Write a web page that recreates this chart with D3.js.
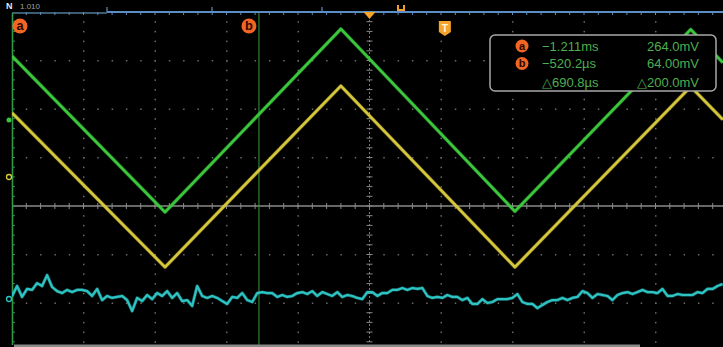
<!DOCTYPE html>
<html>
<head>
<meta charset="utf-8">
<script src="https://cdn.jsdelivr.net/npm/d3@7"></script>
<style>
html,body{margin:0;padding:0;background:#000;overflow:hidden;}
svg{display:block;}
</style>
</head>
<body>
<svg id="scope" width="723" height="347"></svg>
<script>
// ---------- data (time in µs, voltage in mV; 200 µs/div, 200 mV/div) ----------
const greenTimes = [-1211, -783, -291, 196, 688, 778];
const greenValues = [618, -25, 730, -22, 728, 591];
const yellowTimes = [-1211, -783, -291, 196, 688, 778];
const yellowValues = [384, -252, 495, -252, 492, 356];
// cyan: sampled every 14 µs starting at -1211 µs
const cyanStart = -1211;
const cyanStep = 14;
const cyanValues = [
-372,-330,-375,-342,-346,-318,-330,-285,-334,-351,-359,-346,-355,-346,-346,-351,
-371,-342,-388,-371,-379,-375,-371,-388,-433,-379,-392,-367,-384,-359,-371,-351,
-379,-359,-392,-388,-412,-330,-371,-379,-371,-379,-392,-404,-375,-379,-359,-388,
-396,-359,-355,-359,-359,-375,-367,-375,-371,-359,-355,-363,-351,-371,-355,-363,
-371,-355,-375,-367,-371,-379,-384,-355,-355,-371,-359,-359,-346,-346,-338,-346,
-338,-342,-338,-371,-379,-375,-379,-367,-375,-375,-388,-379,-404,-404,-384,-400,
-396,-384,-384,-384,-379,-363,-396,-404,-404,-421,-408,-396,-388,-388,-379,-388,
-379,-375,-351,-359,-379,-363,-367,-371,-388,-367,-359,-355,-363,-355,-346,-355,
-355,-359,-342,-371,-371,-363,-367,-367,-367,-355,-359,-342,-342,-330,-322];
const cursorLabels = ["a", "b"];
const cursorTimes = ["−1.211ms", "−520.2µs", "△690.8µs"];
const cursorVolts = ["264.0mV", "64.00mV", "△200.0mV"];
const cursorA = -1211.2, cursorB = -520.2;

// ---------- scales ----------
const svg = d3.select("#scope");
const x = d3.scaleLinear().domain([-1211.2, 778.3]).range([12, 723]);
const y = d3.scaleLinear().domain([-800, 800]).range([400, 12]);
const gx = d3.scaleLinear().domain([0, 10]).range([12, 727]); // graticule divisions
const gy = d3.scaleLinear().domain([0, 8]).range([12, 400]);

svg.append("rect").attr("width", 723).attr("height", 347).attr("fill", "#000");
const defs = svg.append("defs");
const glow = defs.append("filter").attr("id", "glow").attr("x", "-5%").attr("y", "-20%").attr("width", "110%").attr("height", "140%");
glow.append("feGaussianBlur").attr("stdDeviation", 0.6);

// ---------- graticule ----------
const grat = svg.append("g");
const sub = d3.range(0, 50.01, 1).map(d => d / 5);
const subY = d3.range(0, 40.01, 1).map(d => d / 5);
[1,2,3,4,6,7,8,9].forEach(k => {
  grat.selectAll(null).data(subY.filter(v => gy(v) < 344 && gy(v) > 13)).enter().append("rect")
    .attr("x", gx(k) - 0.5).attr("y", d => gy(d) - 0.5).attr("width", 1.5).attr("height", 1.5)
    .attr("fill", "#6a6a6a");
});
[1,2,3,5,6,7].forEach(k => {
  grat.selectAll(null).data(sub.filter(v => gx(v) > 13 && gx(v) < 723)).enter().append("rect")
    .attr("x", d => gx(d) - 0.5).attr("y", gy(k) - 0.5).attr("width", 1.5).attr("height", 1.5)
    .attr("fill", "#6a6a6a");
});
// center horizontal
grat.append("line").attr("x1", 12).attr("x2", 723).attr("y1", gy(4)).attr("y2", gy(4))
  .attr("stroke", "#8a8a8a").attr("stroke-width", 1.3);
grat.selectAll(null).data(sub.filter(v => gx(v) > 13 && gx(v) < 723)).enter().append("line")
  .attr("x1", d => gx(d)).attr("x2", d => gx(d)).attr("y1", gy(4) - 3).attr("y2", gy(4) + 3)
  .attr("stroke", "#8a8a8a").attr("stroke-width", 1);
// center vertical
grat.append("line").attr("x1", gx(5)).attr("x2", gx(5)).attr("y1", 12).attr("y2", 344)
  .attr("stroke", "#777").attr("stroke-width", 1).attr("stroke-dasharray", "2,2");
grat.selectAll(null).data(subY.filter(v => gy(v) > 13 && gy(v) < 344)).enter().append("line")
  .attr("x1", gx(5) - 3).attr("x2", gx(5) + 3).attr("y1", d => gy(d)).attr("y2", d => gy(d))
  .attr("stroke", "#888").attr("stroke-width", 1);

// top border
svg.append("line").attr("x1", 12).attr("x2", 107).attr("y1", 13).attr("y2", 13)
  .attr("stroke", "#4f7d95").attr("stroke-width", 1.5);
svg.append("line").attr("x1", 107).attr("x2", 723).attr("y1", 12).attr("y2", 12)
  .attr("stroke", "#5b8ec4").attr("stroke-width", 2);
svg.append("line").attr("x1", 107).attr("x2", 107).attr("y1", 7).attr("y2", 12)
  .attr("stroke", "#5b8ec4").attr("stroke-width", 1.2);
svg.selectAll(null).data(sub.filter(v => gx(v) > 14 && gx(v) < 723)).enter().append("line")
  .attr("x1", d => gx(d)).attr("x2", d => gx(d)).attr("y1", 12).attr("y2", 15)
  .attr("stroke", "#5b8ec4").attr("stroke-width", 1);
[212, 322].forEach(px => svg.append("line").attr("x1", px).attr("x2", px).attr("y1", 7).attr("y2", 12)
  .attr("stroke", "#5b8ec4").attr("stroke-width", 1.2));
// left border ticks
svg.selectAll(null).data(subY.filter(v => gy(v) > 13 && gy(v) < 344)).enter().append("line")
  .attr("x1", 12).attr("x2", 15).attr("y1", d => gy(d)).attr("y2", d => gy(d))
  .attr("stroke", "#3b8a5a").attr("stroke-width", 1);

// bottom scroll bar
svg.append("rect").attr("x", 14).attr("y", 344.5).attr("width", 626).attr("height", 3).attr("fill", "#8a8a8a");

// top-left label
svg.append("text").attr("x", 6).attr("y", 9).attr("fill", "#e8e8e8")
  .attr("font-family", "Liberation Sans, sans-serif").attr("font-size", 9).attr("font-weight", "bold").text("N");
svg.append("text").attr("x", 20).attr("y", 9).attr("fill", "#9aa0a0")
  .attr("font-family", "Liberation Sans, sans-serif").attr("font-size", 8).text("1.010");

// ---------- cursors ----------
svg.append("line").attr("x1", x(cursorA) + 0.5).attr("x2", x(cursorA) + 0.5).attr("y1", 13).attr("y2", 345)
  .attr("stroke", "#2f9a4a").attr("stroke-width", 1.6);
svg.append("line").attr("x1", x(cursorB)).attr("x2", x(cursorB)).attr("y1", 13).attr("y2", 345)
  .attr("stroke", "#3a9a3a").attr("stroke-width", 1);

// ---------- traces ----------
const line = d3.line().x(d => x(d[0])).y(d => y(d[1]));
svg.append("clipPath").attr("id", "clipPlot").append("rect").attr("x", 12).attr("y", 13).attr("width", 711).attr("height", 331);
const traces = svg.append("g").attr("clip-path", "url(#clipPlot)");
function trace(data, color, w) {
  traces.append("path").datum(data).attr("d", line).attr("fill", "none").attr("stroke", color)
    .attr("stroke-width", w + 1.2).attr("stroke-opacity", 0.45).attr("stroke-linejoin", "round").attr("filter", "url(#glow)");
  traces.append("path").datum(data).attr("d", line).attr("fill", "none").attr("stroke", color)
    .attr("stroke-width", w).attr("stroke-linejoin", "round");
}
trace(cyanValues.map((v, i) => [cyanStart + i * cyanStep, v]), "#2ec4c4", 2.2);
trace(yellowTimes.map((t, i) => [t, yellowValues[i]]), "#d6c83a", 2.6);
trace(greenTimes.map((t, i) => [t, greenValues[i]]), "#3cc83c", 2.6);

// channel level markers at left edge
svg.append("circle").attr("cx", 9).attr("cy", 120).attr("r", 2.5).attr("fill", "#3bc43b");
svg.append("circle").attr("cx", 9).attr("cy", 177).attr("r", 2.5).attr("fill", "none").attr("stroke", "#d9cc38").attr("stroke-width", 1.3);
svg.append("circle").attr("cx", 9).attr("cy", 299).attr("r", 2.5).attr("fill", "none").attr("stroke", "#2ec4c4").attr("stroke-width", 1.3);

// ---------- markers ----------
const orange = "#f26522";
function cursorBadge(cx, cy, label, r) {
  svg.append("circle").attr("cx", cx).attr("cy", cy).attr("r", r).attr("fill", orange);
  svg.append("text").attr("x", cx).attr("y", cy + r * 0.5).attr("text-anchor", "middle")
    .attr("fill", "#2a0800").attr("font-family", "Liberation Sans, sans-serif").attr("font-weight", "bold")
    .attr("font-size", r * 1.7).text(label);
}
cursorBadge(x(cursorA) + 8, 26, cursorLabels[0], 7.5);
cursorBadge(x(cursorB) - 10, 26, cursorLabels[1], 7.5);

// trigger position triangle
svg.append("path").attr("d", `M${gx(5) - 6},12 L${gx(5) + 6},12 L${gx(5)},19 Z`).attr("fill", "#f5a32a");
// small marker above top line
svg.append("path").attr("d", "M397,5 L397,11 L405,11 L405,5 L403,5 L403,9 L399,9 L399,5 Z").attr("fill", "#f0a030");
// T marker (time zero)
const tx = x(0);
svg.append("path").attr("d", `M${tx - 6},21 L${tx + 6},21 L${tx + 6},32 L${tx},36 L${tx - 6},32 Z`).attr("fill", "#f5a32a");
svg.append("text").attr("x", tx).attr("y", 32).attr("text-anchor", "middle").attr("fill", "#fff3d8")
  .attr("font-family", "Liberation Sans, sans-serif").attr("font-weight", "bold").attr("font-size", 11).text("T");

// ---------- cursor readout box ----------
const box = svg.append("g");
box.append("rect").attr("x", 490).attr("y", 35).attr("width", 226).attr("height", 56).attr("rx", 5)
  .attr("fill", "#000").attr("stroke", "#a8a8a8").attr("stroke-width", 1.5);
const rowsY = [50.5, 68, 86.5];
cursorLabels.forEach((l, i) => {
  box.append("circle").attr("cx", 522).attr("cy", rowsY[i] - 4.5).attr("r", 6.5).attr("fill", orange);
  box.append("text").attr("x", 522).attr("y", rowsY[i] - 1).attr("text-anchor", "middle")
    .attr("fill", "#2a0800").attr("font-family", "Liberation Sans, sans-serif").attr("font-weight", "bold")
    .attr("font-size", 11).text(l);
});
const readFont = "Liberation Sans Narrow, Liberation Sans, sans-serif";
cursorTimes.forEach((t, i) => {
  box.append("text").attr("x", 542).attr("y", rowsY[i]).attr("fill", "#4fae4f")
    .attr("font-family", readFont).attr("font-size", 13).text(t);
});
cursorVolts.forEach((t, i) => {
  box.append("text").attr("x", 699).attr("y", rowsY[i]).attr("text-anchor", "end").attr("fill", "#4fae4f")
    .attr("font-family", readFont).attr("font-size", 13).text(t);
});
</script>
</body>
</html>
